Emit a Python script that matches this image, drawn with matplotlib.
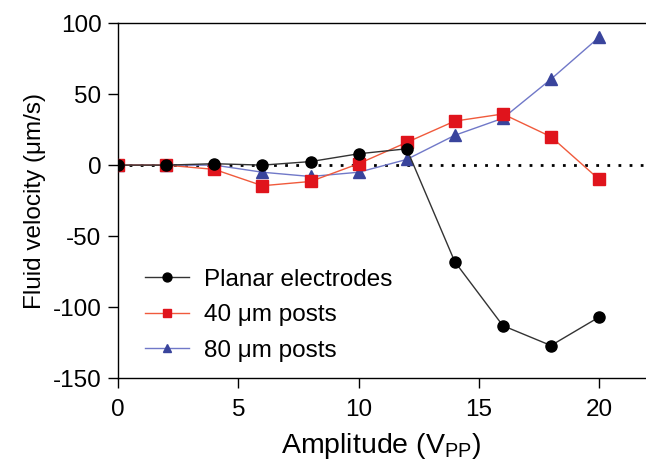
import matplotlib
matplotlib.use("Agg")
import matplotlib.pyplot as plt

plt.rcParams['font.family'] = ['Liberation Sans', 'DejaVu Sans']
plt.rcParams['axes.unicode_minus'] = False
plt.rcParams['mathtext.fontset'] = 'custom'
plt.rcParams['mathtext.rm'] = 'Liberation Sans'

amplitude = [0, 2, 4, 6, 8, 10, 12, 14, 16, 18, 20]
planar = [0, 0, 1, 0, 2.5, 8, 11.5, -68, -113, -127, -107]
posts40 = [0, 0, -3, -14.5, -11.5, 1, 16, 31, 36, 20, -10]
posts80 = [0, 0, 0, -5, -8, -5, 4, 21, 33, 60.5, 90]

fig = plt.figure(figsize=(6.46, 4.71), dpi=100)
ax = fig.add_axes([0.183, 0.197, 0.815, 0.754])

ax.axhline(0, color='black', linestyle=(0, (1, 3)), linewidth=2, zorder=1)

ax.plot(amplitude, planar, color='#333333', lw=1, marker='o', ms=8,
        mfc='black', mec='black', label='Planar electrodes', zorder=4)
ax.plot(amplitude, posts40, color='#f05a3c', lw=1, marker='s', ms=8,
        mfc='#e0141c', mec='#e0141c', label='40 \u03bcm posts', zorder=3)
ax.plot(amplitude, posts80, color='#7078c8', lw=1, marker='^', ms=8,
        mfc='#39449c', mec='#39449c', label='80 \u03bcm posts', zorder=2)

ax.set_xlim(0, 21.9)
ax.set_ylim(-150, 100)
ax.set_xticks([0, 5, 10, 15, 20])
ax.set_yticks([-150, -100, -50, 0, 50, 100])
ax.tick_params(direction='out', length=7, width=1, labelsize=17.5, pad=5)
ax.tick_params(axis='x', pad=8)
ax.spines['right'].set_visible(False)
for s in ['left', 'bottom', 'top']:
    ax.spines[s].set_linewidth(1)

ax.set_xlabel('Amplitude (V$_\\mathregular{PP}$)', fontsize=20.5, labelpad=7)
ax.set_ylabel('Fluid velocity (\u03bcm/s)', fontsize=17.5, labelpad=5)

ax.legend(loc='lower left', bbox_to_anchor=(0.01, -0.015), frameon=False,
          fontsize=17.5, handlelength=1.8, handletextpad=0.6, labelspacing=0.55,
          markerscale=0.8)

fig.savefig('out.png', dpi=100)
